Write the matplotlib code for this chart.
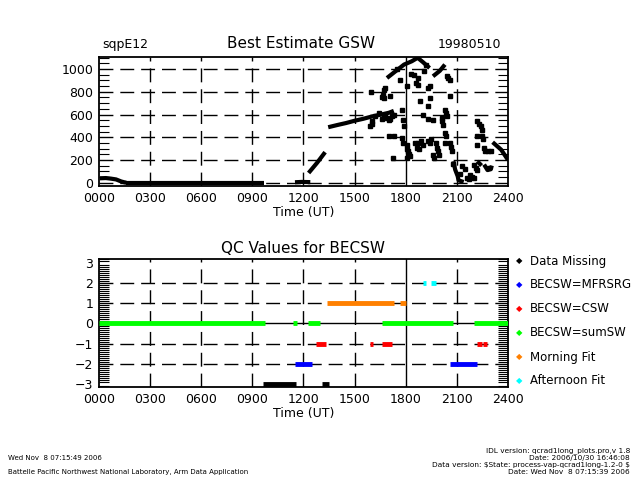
import matplotlib
matplotlib.use("Agg")
import matplotlib.pyplot as plt
import numpy as np
from matplotlib.ticker import MultipleLocator

# ---- top panel: Best Estimate GSW (hours UT, W/m2) ----
# dense stretches of the record, drawn as thick traces
gsw_traces = [
    ([0.05, 0.4, 0.7, 1.0, 1.3, 1.5, 1.6], [38, 40, 35, 28, 10, 2, 0]),
    ([1.6, 9.7], [0, 0]),
    ([11.5, 11.9, 12.4], [3, 6, 4]),
    ([12.3, 12.8, 13.27], [85, 175, 268]),
    ([13.45, 14.0, 14.5, 15.0, 15.5, 16.0, 16.5, 17.0, 17.3],
     [488, 508, 525, 545, 562, 582, 598, 615, 632]),
    ([16.9, 17.4, 17.9, 18.35, 18.7, 19.0, 19.4],
     [922, 981, 1040, 1069, 1100, 1063, 1010]),
    ([19.6, 20.0, 20.3], [937, 985, 1040]),
    ([20.8, 20.9, 21.05, 21.1, 21.4], [188, 115, 56, 20, 5]),
    ([22.2, 22.45], [188, 150]),
    ([22.6, 22.8, 23.0, 23.05], [159, 110, 120, 150]),
    ([23.1, 23.6, 24.0], [356, 290, 200]),
]

# scattered cloudy-period samples
gsw_time = [
    15.95, 16.0, 16.0, 15.9, 16.6, 16.65, 16.7, 16.8, 16.7, 17.1,
    16.6, 16.7, 16.8, 16.9, 17.0, 17.1, 17.2, 17.3, 17.0, 17.3,
    17.25, 17.76, 17.86, 17.9, 17.66, 18.05, 17.76, 17.86, 18.05, 18.1,
    18.15, 18.2, 18.25, 18.1, 18.3, 18.74, 18.74, 18.84, 18.6, 18.5,
    18.55, 18.7, 18.65, 18.9, 19.0, 18.8, 19.33, 19.4, 19.43, 19.33,
    19.03, 19.62, 19.3, 20.1, 20.12, 19.3, 19.45, 19.5, 19.8, 19.85,
    19.9, 19.95, 19.6, 19.65, 20.4, 20.5, 20.6, 20.6, 20.3, 20.35,
    20.4, 20.2, 20.3, 20.35, 20.3, 20.6, 20.65, 20.7, 20.8, 21.3,
    21.45, 21.8, 21.9, 22.0, 22.0, 22.1, 22.2, 22.2, 22.3, 22.4,
    22.45, 22.5, 22.55, 22.2, 22.2, 22.6, 22.65, 22.8, 23.0, 21.6,
    21.7, 16.2, 16.45, 17.5, 19.1, 19.2, 21.2, 22.9,
]
gsw_value = [
    796, 520, 540, 500, 750, 770, 820, 835, 745, 760,
    560, 580, 600, 570, 550, 560, 590, 600, 408, 408,
    217, 643, 555, 500, 907, 848, 393, 350, 335, 300,
    275, 250, 232, 220, 960, 922, 860, 716, 880, 950,
    350, 350, 305, 364, 330, 300, 834, 850, 745, 672,
    599, 555, 560, 540, 570, 364, 350, 380, 350, 305,
    275, 246, 246, 217, 937, 920, 907, 760, 643, 610,
    584, 511, 437, 408, 350, 350, 310, 275, 160, 144,
    120, 71, 50, 42, 159, 130, 115, 540, 520, 496,
    467, 408, 380, 408, 335, 305, 275, 275, 275, 40,
    30, 585, 610, 1000, 980, 1040, 80, 130,
]

# ---- bottom panel: QC flag periods (start, end hours) ----
qc_missing = [(9.6, 11.55), (13.1, 13.5)]
qc_mfrsrg = [(11.5, 12.5), (20.6, 22.2)]
qc_csw = [(12.75, 13.3), (15.9, 16.07), (16.6, 17.2), (22.2, 22.45), (22.55, 22.76)]
qc_sumsw = [(0.0, 9.73), (11.4, 11.6), (12.27, 12.99), (16.6, 20.8), (22.0, 24.0)]
qc_morning = [(13.4, 17.33), (17.66, 18.03)]
qc_afternoon = [(19.0, 19.2), (19.5, 19.77)]

qc_series = [
    ("Data Missing", -3, "black", qc_missing),
    ("BECSW=MFRSRG", -2, "#0000ff", qc_mfrsrg),
    ("BECSW=CSW", -1, "#ff0000", qc_csw),
    ("BECSW=sumSW", 0, "#00ff00", qc_sumsw),
    ("Morning Fit", 1, "#ff8000", qc_morning),
    ("Afternoon Fit", 2, "#00ffff", qc_afternoon),
]

hour_ticks = [0, 3, 6, 9, 12, 15, 18, 21, 24]
hour_labels = ["0000", "0300", "0600", "0900", "1200", "1500", "1800", "2100", "2400"]

plt.rcParams["font.family"] = "DejaVu Sans"
fig = plt.figure(figsize=(6.4, 4.8), dpi=100)
fig.patch.set_facecolor("white")

dash = (0, (10, 5))


def style_axis(ax, minor_step):
    ax.set_xlim(0, 24)
    ax.set_xticks(hour_ticks)
    ax.set_xticklabels(hour_labels)
    ax.yaxis.set_minor_locator(MultipleLocator(minor_step))
    ax.tick_params(axis="both", which="major", labelsize=9, length=0, pad=4)
    ax.tick_params(axis="y", which="minor", direction="in", left=True, right=True,
                   length=7, width=0.8)
    for spine in ax.spines.values():
        spine.set_linewidth(1.3)
    for h in hour_ticks[1:-1]:
        if h == 18:
            ax.axvline(h, color="black", lw=1.0, zorder=1)
        else:
            ax.axvline(h, color="black", lw=1.0, ls=dash, zorder=1)
    ax.set_xlabel("Time (UT)", fontsize=9, labelpad=1)


# top panel
ax1 = fig.add_axes([0.1547, 0.6125, 0.639, 0.269])
ax1.set_ylim(-30, 1108)
ax1.set_yticks([0, 200, 400, 600, 800, 1000])
style_axis(ax1, 50)
for y in [0, 200, 400, 600, 800, 1000]:
    ax1.axhline(y, color="black", lw=1.0, ls=dash, zorder=1)
for t, v in gsw_traces:
    ax1.plot(t, v, color="black", lw=3, solid_capstyle="butt", zorder=3)
ax1.plot(gsw_time, gsw_value, "s", color="black", ms=2.6, zorder=3)

fig.text(0.16, 0.9, "sqpE12", fontsize=9)
fig.text(0.47, 0.9, "Best Estimate GSW", fontsize=11, ha="center")
fig.text(0.783, 0.9, "19980510", fontsize=9, ha="right")

# bottom panel
ax2 = fig.add_axes([0.1547, 0.19375, 0.639, 0.2667])
ax2.set_ylim(-3.15, 3.2)
ax2.set_yticks([-3, -2, -1, 0, 1, 2, 3])
style_axis(ax2, 0.1)
for y in [-2, -1, 1, 2]:
    ax2.axhline(y, color="black", lw=1.0, ls=dash, zorder=1)
ax2.axhline(0, color="black", lw=1.0, zorder=1)
ax2.set_title("QC Values for BECSW", fontsize=11, pad=4)

for name, level, color, periods in qc_series:
    starts = [p[0] for p in periods]
    ends = [p[1] for p in periods]
    ax2.hlines([level] * len(periods), starts, ends, colors=color, lw=3.5, zorder=3)

# legend on the right
for i, (name, level, color, periods) in enumerate(qc_series):
    y = 261 + i * 24
    fig.text(519 / 640, 1 - y / 480, "\u25c6", color=color, fontsize=6,
             ha="center", va="center")
    fig.text(530 / 640, 1 - y / 480, name, fontsize=8.5, va="center")

# footer
fig.text(8 / 640, 1 - 458 / 480, "Wed Nov  8 07:15:49 2006", fontsize=5, va="center")
fig.text(8 / 640, 1 - 472 / 480,
         "Battelle Pacific Northwest National Laboratory, Arm Data Application",
         fontsize=5, va="center")
right_lines = [
    (451, "IDL version: qcrad1long_plots.pro,v 1.8"),
    (458, "Date: 2006/10/30 16:46:08"),
    (465, "Data version: $State: process-vap-qcrad1long-1.2-0 $"),
    (472, "Date: Wed Nov  8 07:15:39 2006"),
]
for y, txt in right_lines:
    fig.text(630 / 640, 1 - y / 480, txt, fontsize=5.3, ha="right", va="center",
             parse_math=False)

plt.savefig("out.png", dpi=100, facecolor=fig.get_facecolor())
plt.close()
